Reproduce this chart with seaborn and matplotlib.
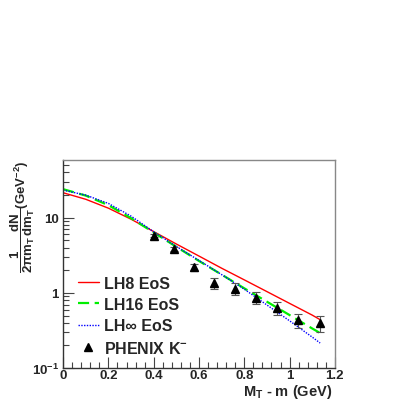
import numpy as np
import pandas as pd
import matplotlib
matplotlib.use("Agg")
import matplotlib.pyplot as plt
import seaborn as sns
from matplotlib.lines import Line2D
from matplotlib.ticker import FixedLocator, FixedFormatter, MultipleLocator, LogLocator, NullFormatter

# Curvas hidro (LH8, LH16, LHinf)
mt_grid = [0.0, 0.1, 0.2, 0.3, 0.4, 0.5, 0.6, 0.7, 0.8, 0.9, 1.0, 1.1, 1.135]
lh8 = [21.5, 17.6, 13.4, 9.56, 6.54, 4.47, 3.09, 2.13, 1.49, 1.04, 0.725, 0.506, 0.44]
lh16 = [24.0, 19.7, 14.7, 9.87, 6.36, 4.10, 2.66, 1.75, 1.15, 0.763, 0.507, 0.336, 0.292]
lhinf = [23.3, 20.0, 15.5, 10.5, 6.5, 4.15, 2.7, 1.75, 1.12, 0.69, 0.425, 0.258, 0.215]

# Dados PHENIX K-
phx_x = [0.40, 0.49, 0.578, 0.667, 0.758, 0.851, 0.945, 1.038, 1.134]
phx_y = [5.8, 3.83, 2.2, 1.35, 1.14, 0.865, 0.63, 0.436, 0.398]
phx_err = [0.3, 0.25, 0.22, 0.24, 0.2, 0.15, 0.12, 0.09, 0.1]

labels = ["LH8 EoS", "LH16 EoS", "LH\u221e EoS"]

sns.set_theme(style="ticks")
plt.rcParams["font.family"] = ["Liberation Sans", "DejaVu Sans"]
plt.rcParams["font.weight"] = "bold"
plt.rcParams["mathtext.fontset"] = "custom"
plt.rcParams["mathtext.rm"] = "Liberation Sans:bold"
plt.rcParams["mathtext.it"] = "Liberation Sans:bold"
plt.rcParams["mathtext.bf"] = "Liberation Sans:bold"
plt.rcParams["mathtext.default"] = "rm"

df = pd.DataFrame({
    "x": mt_grid * 3,
    "y": lh8 + lh16 + lhinf,
    "eos": [labels[0]] * len(mt_grid) + [labels[1]] * len(mt_grid) + [labels[2]] * len(mt_grid),
})

fig = plt.figure(figsize=(4.02, 4.02), dpi=100)
ax = fig.add_axes([0.157, 0.082, 0.676, 0.518])

palette = {labels[0]: "#ff0000", labels[1]: "#00ee00", labels[2]: "#0000ff"}
sns.lineplot(data=df, x="x", y="y", hue="eos", style="eos", palette=palette,
             dashes={labels[0]: "", labels[1]: (5, 2.5), labels[2]: (1, 1)},
             ax=ax, legend=False)
lines = ax.get_lines()
lines[0].set_linewidth(1.0)
lines[1].set_linewidth(1.6)
lines[2].set_linewidth(1.0)

ax.errorbar(phx_x, phx_y, yerr=phx_err, fmt="^", color="black", markersize=6,
            ecolor="#555555", elinewidth=0.8, capsize=3, capthick=0.8, zorder=5)

ax.set_yscale("log")
ax.set_xlim(0, 1.2)
ax.set_ylim(0.1, 59)

ax.set_xticks([0, 0.2, 0.4, 0.6, 0.8, 1.0, 1.2])
ax.set_xticklabels(["0", "0.2", "0.4", "0.6", "0.8", "1", "1.2"])
ax.xaxis.set_minor_locator(MultipleLocator(0.04))
ax.yaxis.set_major_locator(FixedLocator([0.1, 1, 10]))
ax.yaxis.set_major_formatter(FixedFormatter(["10$^{-1}$", "1", "10"]))
ax.yaxis.set_minor_locator(LogLocator(base=10, subs=np.arange(2, 10)))
ax.yaxis.set_minor_formatter(NullFormatter())

ax.tick_params(which="both", direction="in", top=False, right=False, labelsize=9.5,
               color="#444444")
ax.tick_params(axis="x", pad=1)
ax.tick_params(axis="y", pad=3)
ax.tick_params(which="major", length=8, width=0.8)
ax.tick_params(which="minor", length=4, width=0.8)
for lab in ax.get_xticklabels() + ax.get_yticklabels():
    lab.set_fontweight("bold")

for s in ["left", "bottom"]:
    ax.spines[s].set_color("#333333")
for s in ["top", "right"]:
    ax.spines[s].set_color("#888888")
for s in ax.spines.values():
    s.set_linewidth(1.0)

ax.set_xlabel("M$_T$ - m (GeV)", fontsize=10.5, fontweight="bold", loc="right")
ax.xaxis.set_label_coords(0.99, -0.065)
ax.set_ylabel(r"$\dfrac{1}{2\pi m_T}\dfrac{dN}{dm_T}$(GeV$^{-2}$)", fontsize=9.5,
              fontweight="bold", loc="top")
ax.yaxis.set_label_coords(-0.096, 1.0)

handles = [
    Line2D([], [], color="#ff0000", lw=1.0),
    Line2D([], [], color="#00ee00", lw=1.6, dashes=(5, 2.5)),
    Line2D([], [], color="#0000ff", lw=1.0, dashes=(1, 1)),
    Line2D([], [], color="black", marker="^", ls="", markersize=6),
]
leg = ax.legend(handles, labels + ["PHENIX K$^{-}$"], loc="lower left",
                bbox_to_anchor=(0.055, 0.06), borderaxespad=0, borderpad=0, frameon=False,
                prop={"size": 11.5, "weight": "bold"},
                handlelength=1.3, handletextpad=0.35, labelspacing=0.39)

fig.savefig("out.png", dpi=100)
